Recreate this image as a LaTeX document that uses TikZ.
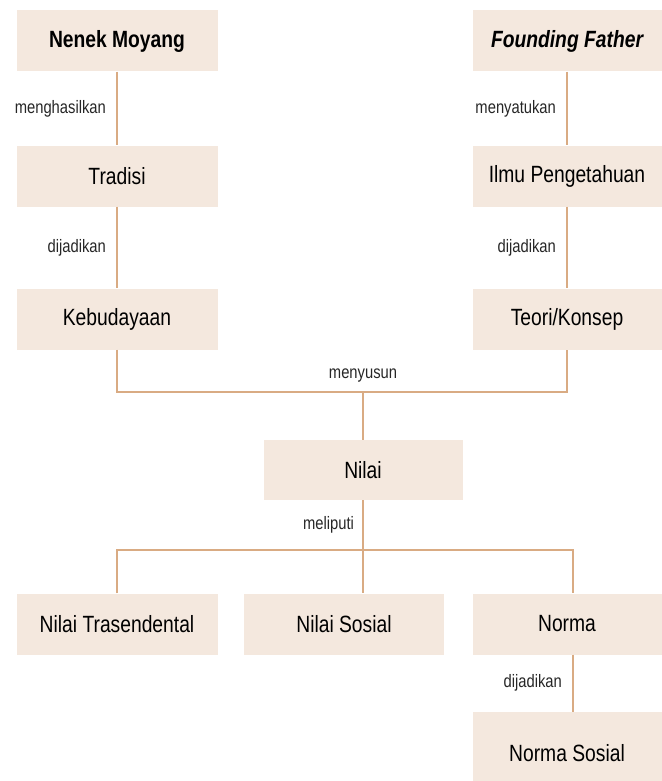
\documentclass[tikz,border=0pt]{standalone}
\usepackage{fontspec}
\setmainfont[FakeStretch=0.82]{Liberation Sans}
\definecolor{boxfill}{HTML}{F4E8DE}
\definecolor{linetan}{HTML}{D9AB83}
\begin{document}
\begin{tikzpicture}[x=1pt, y=-1pt,
    box/.style={fill=boxfill, minimum width=201pt, minimum height=61pt, inner sep=0pt, align=center, font=\fontsize{23.5}{26}\selectfont},
    rbox/.style={box, minimum width=189pt},
    link/.style={draw=linetan, line width=2.2pt},
    lbl/.style={font=\fontsize{18}{20}\selectfont, inner sep=0pt, text=black!85}
]
    \useasboundingbox (0,0) rectangle (661,781);

    \node[box] (nenek) at (117,41) {\bfseries Nenek Moyang};
    \node[box] (tradisi) at (117,176) {Tradisi};
    \node[box] (budaya) at (117,319) {Kebudayaan};
    \node[rbox] (founding) at (567,41) {\bfseries\itshape Founding Father};
    \node[rbox] (ilmu) at (567,176) {Ilmu Pengetahuan};
    \node[rbox] (teori) at (567,319) {Teori/Konsep};
    \node[box, minimum width=199pt, minimum height=60pt] (nilai) at (363,470) {Nilai};
    \node[box] (transenden) at (117,624) {Nilai Trasendental};
    \node[box, minimum width=200pt] (sosial) at (344,624) {Nilai Sosial};
    \node[rbox] (norma) at (567,624) {Norma};
    \node[rbox, minimum height=82pt] (normasos) at (567,753) {Norma Sosial};

    \coordinate (susun) at (363,392);
    \coordinate (liput) at (363,550);

    \draw[link] (nenek) -- (tradisi) node[lbl, midway, left=10pt] {menghasilkan};
    \draw[link] (tradisi) -- (budaya) node[lbl, midway, left=10pt] {dijadikan};
    \draw[link] (founding) -- (ilmu) node[lbl, midway, left=10pt] {menyatukan};
    \draw[link] (ilmu) -- (teori) node[lbl, midway, left=10pt] {dijadikan};

    \draw[link] (budaya) |- (susun) -| (teori);
    \node[lbl, above=10pt] at (susun) {menyusun};
    \draw[link] (susun) -- (nilai);

    \draw[link] (nilai) -- (liput) node[lbl, midway, left=8pt] {meliputi};
    \draw[link] (transenden) |- (liput) -| ([xshift=6pt]norma.north);
    \draw[link] (liput) -- (liput |- sosial.north);
    \draw[link] ([xshift=6pt]norma.south) -- ([xshift=6pt]normasos.north) node[lbl, midway, left=10pt] {dijadikan};
\end{tikzpicture}
\end{document}
